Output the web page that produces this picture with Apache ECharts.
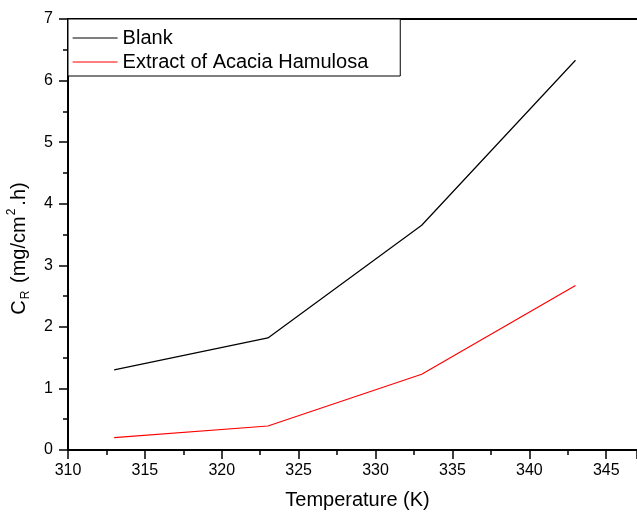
<!DOCTYPE html>
<html>
<head>
<meta charset="utf-8">
<script src="https://cdn.jsdelivr.net/npm/echarts@6/dist/echarts.min.js"></script>
<style>
  html, body { margin: 0; padding: 0; background: #fff; }
  #chart { width: 637px; height: 512px; }
</style>
</head>
<body>
<div id="chart"></div>
<script>
// data
var temperatures = [313, 323, 333, 343];
var blankRate = [1.30, 1.82, 3.65, 6.33];
var extractRate = [0.20, 0.39, 1.23, 2.67];
var seriesNames = ['Blank', 'Extract of Acacia Hamulosa'];

var font = "'Liberation Sans', Arial, sans-serif";

function pairs(xs, ys) {
  return xs.map(function (x, i) { return [x, ys[i]]; });
}

var myChart = echarts.init(document.getElementById('chart'));

var option = {
  animation: false,
  backgroundColor: '#fff',
  textStyle: { fontFamily: font, color: '#000' },
  grid: { left: 68, right: 0, top: 19, bottom: 62, outerBoundsMode: 'none', containLabel: false },
  legend: {
    data: seriesNames,
    orient: 'vertical',
    left: 68,
    top: 19,
    padding: [9, 32, 4, 4],
    itemGap: 4,
    itemWidth: 45,
    itemHeight: 14,
    itemTextGap: 7,
    borderColor: '#000',
    borderWidth: 1,
    backgroundColor: '#fff',
    itemStyle: { opacity: 0 },
    lineStyle: { width: 1.2 },
    textStyle: { fontFamily: font, fontSize: 20, lineHeight: 20, color: '#000' }
  },
  xAxis: [{
    type: 'value',
    min: 310,
    max: 347,
    interval: 5,
    name: 'Temperature (K)',
    nameLocation: 'middle',
    nameGap: 40,
    nameTextStyle: { fontFamily: font, fontSize: 20, color: '#000', padding: [0, 0, 0, 10] },
    axisLine: { onZero: false, lineStyle: { color: '#000', width: 2 } },
    axisTick: { length: 9, lineStyle: { color: '#000', width: 1.5 } },
    minorTick: { show: true, splitNumber: 2, length: 5, lineStyle: { color: '#000', width: 1.5 } },
    axisLabel: {
      fontFamily: font, fontSize: 16, color: '#000', margin: 13,
      formatter: function (v) { return v % 5 === 0 ? String(v) : ''; }
    },
    splitLine: { show: false }
  }, {
    type: 'value',
    position: 'top',
    min: 310,
    max: 347,
    axisLine: { onZero: false, lineStyle: { color: '#000', width: 2 } },
    axisTick: { show: false },
    axisLabel: { show: false },
    splitLine: { show: false }
  }],
  yAxis: {
    type: 'value',
    min: 0,
    max: 7,
    interval: 1,
    name: '{a|C}{sub|R}{a| (mg/cm}{sup|2}{a|.h)}',
    nameLocation: 'middle',
    nameRotate: 90,
    nameGap: 36,
    nameTextStyle: {
      fontFamily: font,
      padding: [0, 28, 0, 0],
      rich: {
        a: { fontFamily: font, fontSize: 20, color: '#000', lineHeight: 26, verticalAlign: 'middle' },
        sub: { fontFamily: font, fontSize: 12, color: '#000', lineHeight: 12, verticalAlign: 'bottom', padding: [0, 2, 0, 1] },
        sup: { fontFamily: font, fontSize: 12, color: '#000', lineHeight: 12, verticalAlign: 'top', padding: [0, 3, 0, 1] }
      }
    },
    axisLine: { show: true, lineStyle: { color: '#000', width: 2 } },
    axisTick: { length: 9, lineStyle: { color: '#000', width: 1.5 } },
    minorTick: { show: true, splitNumber: 2, length: 5, lineStyle: { color: '#000', width: 1.5 } },
    axisLabel: { fontFamily: font, fontSize: 16, color: '#000', margin: 15 },
    splitLine: { show: false }
  },
  series: [{
    name: seriesNames[0],
    type: 'line',
    symbol: 'none',
    data: pairs(temperatures, blankRate),
    lineStyle: { color: '#000', width: 1.2 },
    itemStyle: { color: '#000' }
  }, {
    name: seriesNames[1],
    type: 'line',
    symbol: 'none',
    data: pairs(temperatures, extractRate),
    lineStyle: { color: '#ff0000', width: 1.2 },
    itemStyle: { color: '#ff0000' }
  }]
};

myChart.setOption(option);
</script>
</body>
</html>
